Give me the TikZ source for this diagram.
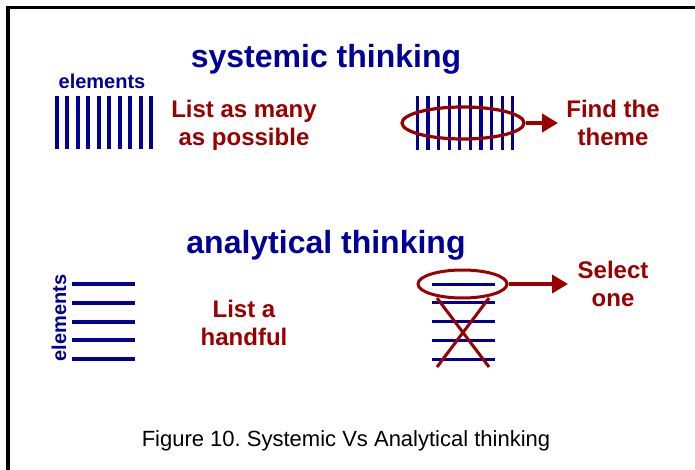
\documentclass[tikz,border=0pt]{standalone}
\usepackage{fontspec}
\setmainfont{Liberation Sans}
\usetikzlibrary{shapes.geometric,arrows.meta}
\definecolor{navyb}{HTML}{000099}
\definecolor{darkr}{HTML}{990000}
\frenchspacing
\tikzset{
  title/.style={font=\bfseries\fontsize{32}{38}\selectfont, text=navyb, inner sep=0pt, anchor=base},
  redtxt/.style={font=\bfseries\fontsize{24}{28}\selectfont, text=darkr, inner sep=0pt, align=center, anchor=base},
  elemtxt/.style={font=\bfseries\fontsize{20}{24}\selectfont, text=navyb, inner sep=0pt},
  bar/.style={draw=navyb, line width=4pt},
  thinbar/.style={draw=navyb, line width=3.2pt},
  ring/.style={draw=darkr, line width=3.2pt, ellipse, inner sep=0pt},
  arr/.style={draw=darkr, line width=4pt, -{Triangle[length=16pt,width=18pt]}},
  cross/.style={draw=darkr, line width=3pt},
  frame/.style={draw=black, line width=3.5pt},
}
\begin{document}
\begin{tikzpicture}[x=1pt,y=-1pt]
\useasboundingbox (0,0) rectangle (695,470);
% frame
\coordinate (f1) at (8,470);
\coordinate (f2) at (8,7.5);
\coordinate (f3) at (695,7.5);
\draw[frame] (f1) -- (f2) -- (f3);
% titles
\node[title] (t1) at (326,68) {systemic thinking};
\node[title] (t2) at (326,253) {analytical thinking};
% systemic: elements
\node[elemtxt, anchor=base] (el1) at (102,89) {elements};
\foreach \i in {0,...,9} {
  \draw[bar] ({57+\i*10.45},96) -- ({57+\i*10.45},149);
}
\node[redtxt] (l1) at (244,145.5) {List as many\\as possible};
% systemic: theme
\foreach \i in {0,...,9} {
  \draw[thinbar] ({417.5+\i*10.58},96) -- ({417.5+\i*10.58},150);
}
\node[ring, minimum width=122pt, minimum height=32pt] (e1) at (463,123) {};
\coordinate (a1) at (558,123);
\draw[arr] (e1.east) -- (a1);
\node[redtxt] (ft) at (613,145.5) {Find the\\theme};
% analytical: elements
\node[elemtxt, rotate=90] (el2) at (59,318) {elements};
\foreach \y in {284,302.75,321.5,340.25,359} {
  \draw[bar] (72,\y) -- (135,\y);
}
\node[redtxt] (l2) at (244,345.5) {List a\\handful};
% analytical: select one
\foreach \y in {302.75,321.5,340.25,359} {
  \draw[thinbar, line width=3pt] (432,\y) -- (495,\y);
}
\draw[thinbar, line width=3pt] (432,284) -- (495,284);
\coordinate (c1) at (437,298);
\coordinate (c2) at (489,367);
\coordinate (c3) at (489,298);
\coordinate (c4) at (437,367);
\draw[cross] (c1) -- (c2);
\draw[cross] (c3) -- (c4);
\node[ring, line width=3pt, minimum width=89pt, minimum height=28pt] (e2) at (462.5,284) {};
\coordinate (a2) at (568,284);
\draw[arr, line width=3.5pt] (e2.east) -- (a2);
\node[redtxt] (so) at (613,306.5) {Select\\one};
% caption
\node[font=\fontsize{22}{26}\selectfont, inner sep=0pt, anchor=base] (cap) at (346,446) {Figure 10. Systemic Vs Analytical thinking};
\end{tikzpicture}
\end{document}
